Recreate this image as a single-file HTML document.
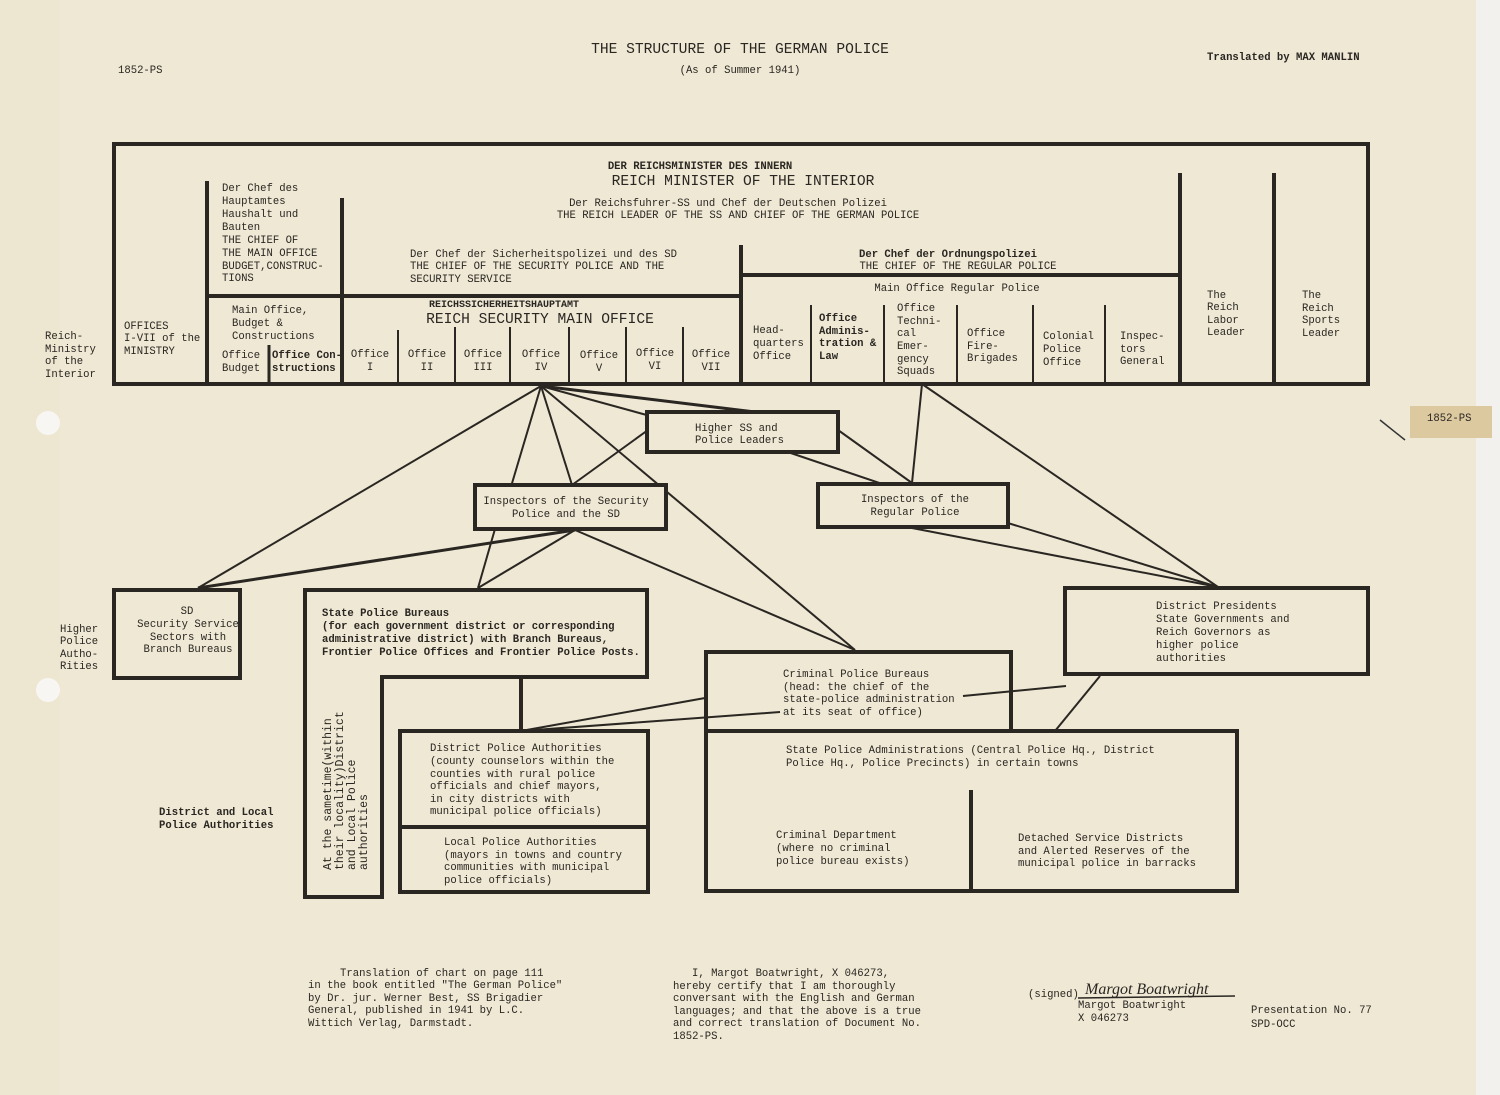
<!DOCTYPE html>
<html><head><meta charset="utf-8"><style>
html,body{margin:0;padding:0;background:#f3f2ee}
svg{display:block}
text{font-family:"Liberation Mono","DejaVu Sans Mono",monospace;font-size:10.6px;fill:#2a2622}
.b{font-weight:bold}
.c{text-anchor:middle}
.L{font-size:14.6px}
</style></head><body>
<svg width="1500" height="1095" viewBox="0 0 1500 1095" xmlns="http://www.w3.org/2000/svg">
<rect x="0" y="0" width="1476" height="1095" fill="#eee8d4"/>
<rect x="0" y="0" width="60" height="1095" fill="#ede6d0"/>
<rect x="1476" y="0" width="24" height="1095" fill="#f2f1ed"/>
<circle cx="48" cy="423" r="12" fill="#f7f6f2"/>
<circle cx="48" cy="690" r="12" fill="#f7f6f2"/>
<rect x="1410" y="406" width="82" height="32" fill="#dcc9a0"/>
<text x="1427" y="421">1852-PS</text>
<line x1="1380" y1="420" x2="1405" y2="440" stroke="#333" stroke-width="1.5"/>

<text x="740" y="53" class="c L">THE STRUCTURE OF THE GERMAN POLICE</text>
<text x="740" y="73" class="c">(As of Summer 1941)</text>
<text x="118" y="73">1852-PS</text>
<text x="1207" y="60" class="b">Translated by  MAX MANLIN</text>

<g stroke="#2a2622" fill="none" stroke-width="4">
<rect x="114" y="144" width="1254" height="240"/>
<line x1="207" y1="181" x2="207" y2="384"/>
<line x1="342" y1="198" x2="342" y2="384"/>
<line x1="741" y1="245" x2="741" y2="384"/>
<line x1="1180" y1="173" x2="1180" y2="384"/>
<line x1="1274" y1="173" x2="1274" y2="384"/>
<line x1="207" y1="296" x2="741" y2="296"/>
<line x1="741" y1="275" x2="1180" y2="275"/>
</g>
<g stroke="#2a2622" stroke-width="2">
<line x1="269" y1="345" x2="269" y2="384" stroke-width="3"/>
<line x1="398" y1="330" x2="398" y2="384"/>
<line x1="455" y1="327" x2="455" y2="384"/>
<line x1="510" y1="327" x2="510" y2="384"/>
<line x1="569" y1="327" x2="569" y2="384"/>
<line x1="626" y1="327" x2="626" y2="384"/>
<line x1="683" y1="327" x2="683" y2="384"/>
<line x1="811" y1="305" x2="811" y2="384"/>
<line x1="884" y1="305" x2="884" y2="384"/>
<line x1="957" y1="305" x2="957" y2="384"/>
<line x1="1033" y1="305" x2="1033" y2="384"/>
<line x1="1105" y1="305" x2="1105" y2="384"/>
</g>

<text x="700" y="169" class="c b">DER REICHSMINISTER DES INNERN</text>
<text x="743" y="185" class="c L">REICH MINISTER OF THE INTERIOR</text>
<text x="728" y="206" class="c">Der Reichsfuhrer-SS und Chef der Deutschen Polizei</text>
<text x="738" y="218" class="c">THE REICH LEADER OF THE SS AND CHIEF OF THE GERMAN POLICE</text>
<g><text x="222" y="191">Der Chef des</text><text x="222" y="204">Hauptamtes</text><text x="222" y="217">Haushalt und</text><text x="222" y="230">Bauten</text><text x="222" y="243">THE CHIEF OF</text><text x="222" y="256">THE MAIN OFFICE</text><text x="222" y="269">BUDGET,CONSTRUC-</text><text x="222" y="281">TIONS</text></g>
<text x="410" y="257">Der Chef der Sicherheitspolizei und des SD</text>
<text x="410" y="269">THE CHIEF OF THE SECURITY POLICE AND THE</text>
<text x="410" y="282">SECURITY SERVICE</text>
<text x="948" y="257" class="c b">Der Chef der Ordnungspolizei</text>
<text x="958" y="269" class="c">THE CHIEF OF THE REGULAR POLICE</text>
<text x="957" y="291" class="c">Main Office Regular Police</text>
<text x="504" y="307" class="c b" style="font-size:10px">REICHSSICHERHEITSHAUPTAMT</text>
<text x="540" y="323" class="c L">REICH SECURITY MAIN OFFICE</text>
<text x="232" y="313">Main Office,</text><text x="232" y="326">Budget &amp;</text><text x="232" y="339">Constructions</text>
<text x="222" y="358">Office</text><text x="222" y="371">Budget</text>
<text x="272" y="358" class="b">Office Con-</text><text x="272" y="371" class="b">structions</text>
<text x="124" y="329">OFFICES</text><text x="124" y="341">I-VII of the</text><text x="124" y="354">MINISTRY</text>
<text x="370" y="357" class="c">Office</text><text x="370" y="370" class="c">I</text>
<text x="427" y="357" class="c">Office</text><text x="427" y="370" class="c">II</text>
<text x="483" y="357" class="c">Office</text><text x="483" y="370" class="c">III</text>
<text x="541" y="357" class="c">Office</text><text x="541" y="370" class="c">IV</text>
<text x="599" y="358" class="c">Office</text><text x="599" y="371" class="c">V</text>
<text x="655" y="356" class="c">Office</text><text x="655" y="369" class="c">VI</text>
<text x="711" y="357" class="c">Office</text><text x="711" y="370" class="c">VII</text>
<text x="753" y="333">Head-</text><text x="753" y="346">quarters</text><text x="753" y="359">Office</text>
<text x="819" y="321" class="b">Office</text><text x="819" y="334" class="b">Adminis-</text><text x="819" y="346" class="b">tration &amp;</text><text x="819" y="359" class="b">Law</text>
<text x="897" y="311">Office</text><text x="897" y="324">Techni-</text><text x="897" y="336">cal</text><text x="897" y="349">Emer-</text><text x="897" y="362">gency</text><text x="897" y="374">Squads</text>
<text x="967" y="336">Office</text><text x="967" y="349">Fire-</text><text x="967" y="361">Brigades</text>
<text x="1043" y="339">Colonial</text><text x="1043" y="352">Police</text><text x="1043" y="365">Office</text>
<text x="1120" y="339">Inspec-</text><text x="1120" y="352">tors</text><text x="1120" y="364">General</text>
<text x="1207" y="298">The</text><text x="1207" y="310">Reich</text><text x="1207" y="323">Labor</text><text x="1207" y="335">Leader</text>
<text x="1302" y="298">The</text><text x="1302" y="311">Reich</text><text x="1302" y="323">Sports</text><text x="1302" y="336">Leader</text>
<text x="45" y="339">Reich-</text><text x="45" y="352">Ministry</text><text x="45" y="364">of the</text><text x="45" y="377">Interior</text>

<g stroke="#2a2622" stroke-width="2" fill="none">
<line x1="541" y1="386" x2="198" y2="588"/>
<line x1="541" y1="386" x2="510" y2="490"/>
<line x1="541" y1="386" x2="572" y2="485"/>
<line x1="541" y1="386" x2="855" y2="650"/>
<line x1="541" y1="386" x2="755" y2="412" stroke-width="3"/>
<line x1="541" y1="386" x2="694" y2="428"/>
<line x1="572" y1="485" x2="648" y2="430"/>
<line x1="575" y1="530" x2="198" y2="588" stroke-width="3"/>
<line x1="575" y1="530" x2="478" y2="588"/>
<line x1="575" y1="530" x2="855" y2="650"/>
<line x1="497" y1="522" x2="478" y2="588"/>
<line x1="922" y1="384" x2="912" y2="483"/>
<line x1="922" y1="384" x2="1218" y2="587"/>
<line x1="838" y1="430" x2="912" y2="483"/>
<line x1="770" y1="446" x2="900" y2="490"/>
<line x1="912" y1="528" x2="1218" y2="587"/>
<line x1="975" y1="513" x2="1218" y2="587"/>
<line x1="705" y1="698" x2="521" y2="731"/>
<line x1="780" y1="712" x2="521" y2="731"/>
<line x1="963" y1="696" x2="1066" y2="686"/>
<line x1="1100" y1="676" x2="1055" y2="731"/>
</g>

<g stroke="#2a2622" stroke-width="4" fill="#eee8d4">
<rect x="647" y="412" width="191" height="40"/>
<rect x="475" y="485" width="191" height="44"/>
<rect x="818" y="484" width="190" height="43"/>
<rect x="114" y="590" width="126" height="88"/>
<rect x="1065" y="588" width="303" height="86"/>
</g>
<g stroke="#2a2622" stroke-width="4" fill="none">
<path d="M305 590 H647 V677 H382 V897 H305 Z"/>
<line x1="521" y1="677" x2="521" y2="731"/>
<rect x="400" y="731" width="248" height="161"/>
<line x1="400" y1="827" x2="648" y2="827"/>
<path d="M706 731 V652 H1011 V731"/>
<rect x="706" y="731" width="531" height="160"/>
<line x1="971" y1="790" x2="971" y2="891"/>
</g>

<text x="695" y="431">Higher SS and</text><text x="695" y="443">Police Leaders</text>
<text x="566" y="504" class="c">Inspectors of the Security</text><text x="566" y="517" class="c">Police and the SD</text>
<text x="915" y="502" class="c">Inspectors of the</text><text x="915" y="515" class="c">Regular Police</text>
<text x="187" y="614" class="c">SD</text><text x="188" y="627" class="c">Security Service</text><text x="188" y="640" class="c">Sectors with</text><text x="188" y="652" class="c">Branch Bureaus</text>
<text x="322" y="616" class="b">State Police Bureaus</text>
<text x="322" y="629" class="b">(for each government district or corresponding</text>
<text x="322" y="642" class="b">administrative district) with Branch Bureaus,</text>
<text x="322" y="655" class="b">Frontier Police Offices and Frontier Police Posts.</text>
<text x="1156" y="609">District Presidents</text><text x="1156" y="622">State Governments and</text><text x="1156" y="635">Reich Governors as</text><text x="1156" y="648">higher police</text><text x="1156" y="661">authorities</text>
<text x="783" y="677">Criminal Police Bureaus</text><text x="783" y="690">(head:  the chief of the</text><text x="783" y="702">state-police administration</text><text x="783" y="715">at its seat of office)</text>
<text x="786" y="753">State Police Administrations (Central Police Hq., District</text><text x="786" y="766">Police Hq., Police Precincts) in certain towns</text>
<text x="776" y="838">Criminal Department</text><text x="776" y="851">(where no criminal</text><text x="776" y="864">police bureau exists)</text>
<text x="1018" y="841">Detached Service Districts</text><text x="1018" y="854">and Alerted Reserves of the</text><text x="1018" y="866">municipal police in barracks</text>
<text x="430" y="751">District Police Authorities</text><text x="430" y="764">(county counselors within the</text><text x="430" y="777">counties with rural police</text><text x="430" y="789">officials and chief mayors,</text><text x="430" y="802">in city districts with</text><text x="430" y="814">municipal police officials)</text>
<text x="444" y="845">Local Police Authorities</text><text x="444" y="858">(mayors in towns and country</text><text x="444" y="870">communities with municipal</text><text x="444" y="883">police officials)</text>
<g transform="translate(331,870) rotate(-90)"><text x="0" y="0" style="font-size:11.5px">At the sametime(within</text><text x="0" y="12" style="font-size:11.5px">their locality)District</text><text x="0" y="24" style="font-size:11.5px">and Local Police</text><text x="0" y="36" style="font-size:11.5px">authorities</text></g>
<text x="60" y="632">Higher</text><text x="60" y="644">Police</text><text x="60" y="657">Autho-</text><text x="60" y="669">Rities</text>
<text x="159" y="815" class="b">District and Local</text><text x="159" y="828" class="b">Police Authorities</text>

<text x="340" y="976">Translation of chart on page 111</text>
<text x="308" y="988">in the book entitled "The German Police"</text>
<text x="308" y="1001">by Dr. jur. Werner Best, SS Brigadier</text>
<text x="308" y="1013">General, published in 1941 by L.C.</text>
<text x="308" y="1026">Wittich Verlag, Darmstadt.</text>
<text x="692" y="976">I, Margot Boatwright, X 046273,</text>
<text x="673" y="989">hereby certify that I am thoroughly</text>
<text x="673" y="1001">conversant with the English and German</text>
<text x="673" y="1014">languages; and that the above is a true</text>
<text x="673" y="1026">and correct translation of Document No.</text>
<text x="673" y="1039">1852-PS.</text>
<text x="1028" y="997">(signed)</text>
<text x="1085" y="994" style="font-family:'Liberation Serif',serif;font-style:italic;font-size:16px">Margot Boatwright</text>
<line x1="1078" y1="998" x2="1235" y2="996" stroke="#2a2622" stroke-width="1.5"/>
<text x="1078" y="1008">Margot Boatwright</text>
<text x="1078" y="1021">X 046273</text>
<text x="1251" y="1013">Presentation No. 77</text>
<text x="1251" y="1027">SPD-OCC</text>
</svg>
</body></html>
